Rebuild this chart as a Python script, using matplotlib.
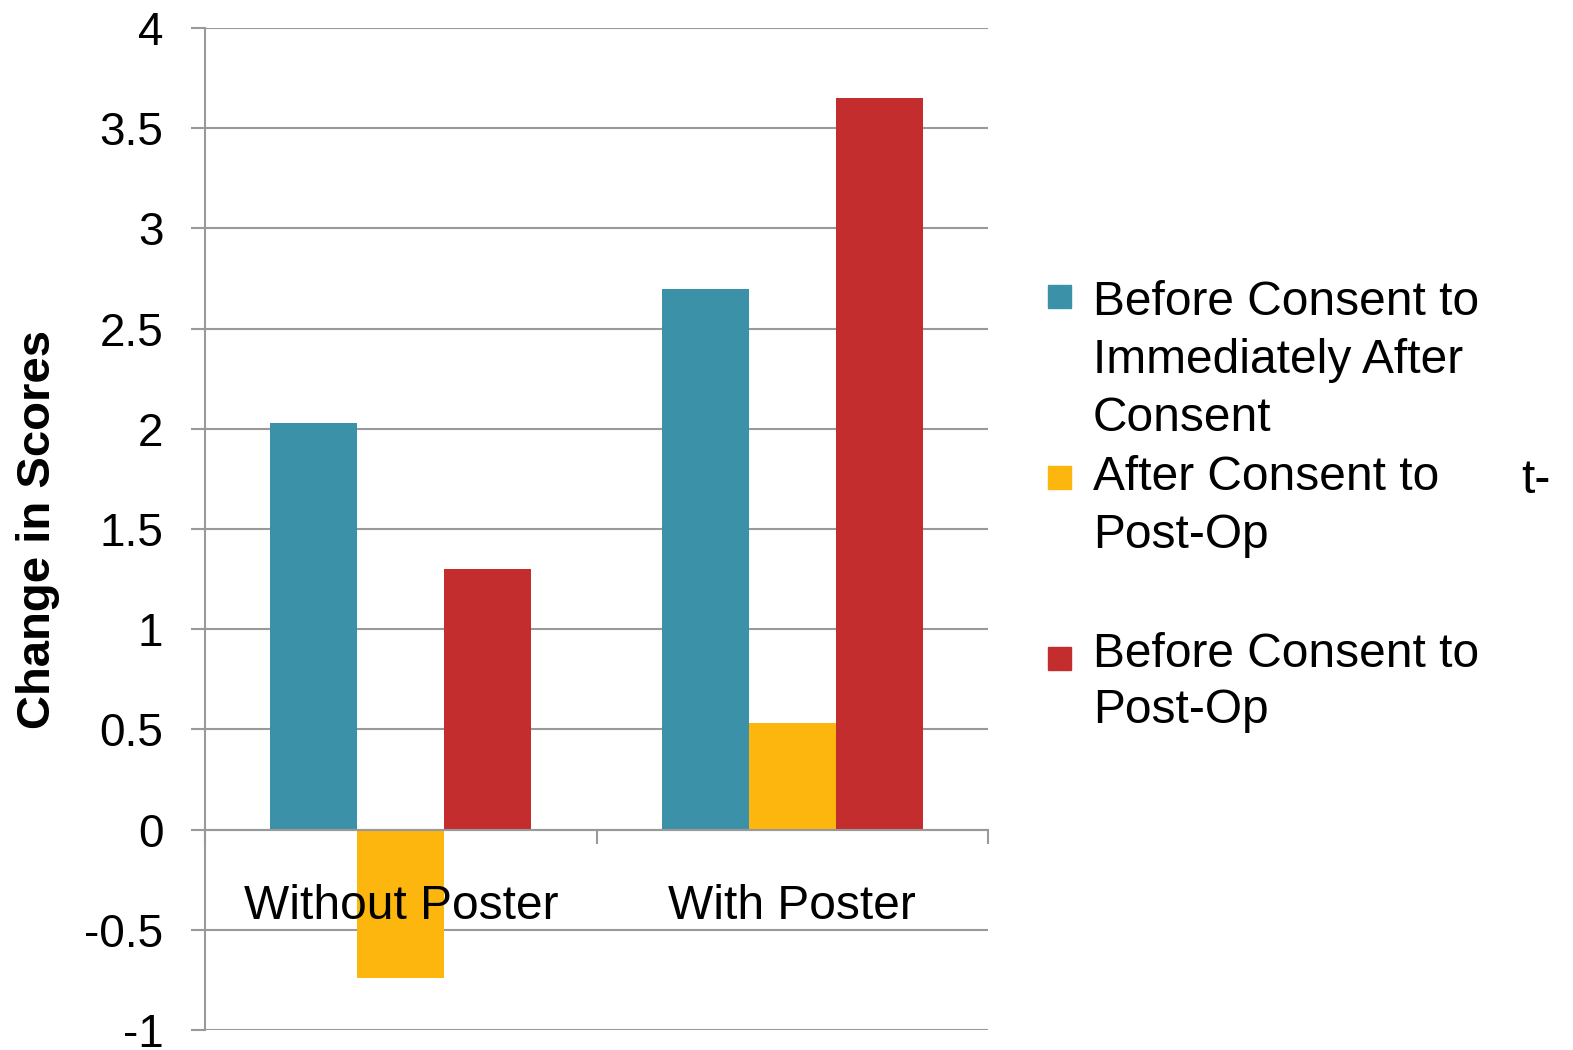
import matplotlib
matplotlib.use("Agg")
import matplotlib.pyplot as plt
from matplotlib.patches import Rectangle
import numpy as np

plt.rcParams['font.family'] = ['Liberation Sans', 'DejaVu Sans']

groups = ['Without Poster', 'With Poster']
before_to_after = [2.03, 2.70]
after_to_postop = [-0.74, 0.53]
before_to_postop = [1.30, 3.65]

series_names = [
    ['Before Consent to', 'Immediately After', 'Consent'],
    ['After Consent to', 'Post-Op'],
    ['Before Consent to', 'Post-Op'],
]
colors = ['#3A91A8', '#FDB60E', '#C32D2E']
grey = '#999999'

fig = plt.figure(figsize=(15.73, 10.5), dpi=100)
ax = fig.add_axes([205 / 1573, 1 - 1030 / 1050, 783 / 1573, 1002 / 1050])

x = np.arange(len(groups))
w = 0.222
for i, vals in enumerate([before_to_after, after_to_postop, before_to_postop]):
    ax.bar(x + (i - 1) * w, vals, width=w, color=colors[i], zorder=2)

ax.set_xlim(-0.5, 1.5)
ax.set_ylim(-1, 4)
ax.set_yticks(np.arange(-1, 4.01, 0.5))
ax.set_yticklabels(['-1', '-0.5', '0', '0.5', '1', '1.5', '2', '2.5', '3', '3.5', '4'])
ax.yaxis.grid(True, color=grey, linewidth=1.5)
ax.yaxis.set_zorder(0.5)
ax.xaxis.set_zorder(3)

ax.set_xticks(x)
ax.set_xticklabels(groups)
ax.set_xticks([-0.5, 0.5, 1.5], minor=True)
ax.tick_params(axis='x', which='major', length=0, pad=39, labelsize=34.5)
ax.tick_params(axis='x', which='minor', length=10, width=1.5, color=grey, direction='out')
ax.tick_params(axis='y', length=10, width=1.5, color=grey, pad=20, labelsize=33)

for side in ['top', 'right']:
    ax.spines[side].set_visible(False)
ax.spines['bottom'].set_position(('data', 0))
ax.spines['bottom'].set_color(grey)
ax.spines['bottom'].set_linewidth(1.5)
ax.spines['left'].set_color(grey)
ax.spines['left'].set_linewidth(1.5)

ax.set_ylabel('Change in Scores', fontsize=34, fontweight='bold')
ax.yaxis.set_label_coords(-0.185, 0.5)

# legend drawn by hand so that the swatch lines up with the first text line
W, H = 1573, 1050
baselines = [[315, 373, 431], [490, 548], [667, 723]]
swatch_tops = [285, 466, 647]
for i, lines in enumerate(series_names):
    fig.patches.append(Rectangle((1048 / W, 1 - (swatch_tops[i] + 23) / H), 23 / W, 23 / H,
                                 transform=fig.transFigure, color=colors[i]))
    for line, yb in zip(lines, baselines[i]):
        fig.text(1093 / W, 1 - yb / H, line, fontsize=34.5, va='baseline', ha='left')

fig.text(1521 / W, 1 - 493 / H, 't-', fontsize=34.5, va='baseline', ha='left')

fig.savefig('out.png', dpi=100)
